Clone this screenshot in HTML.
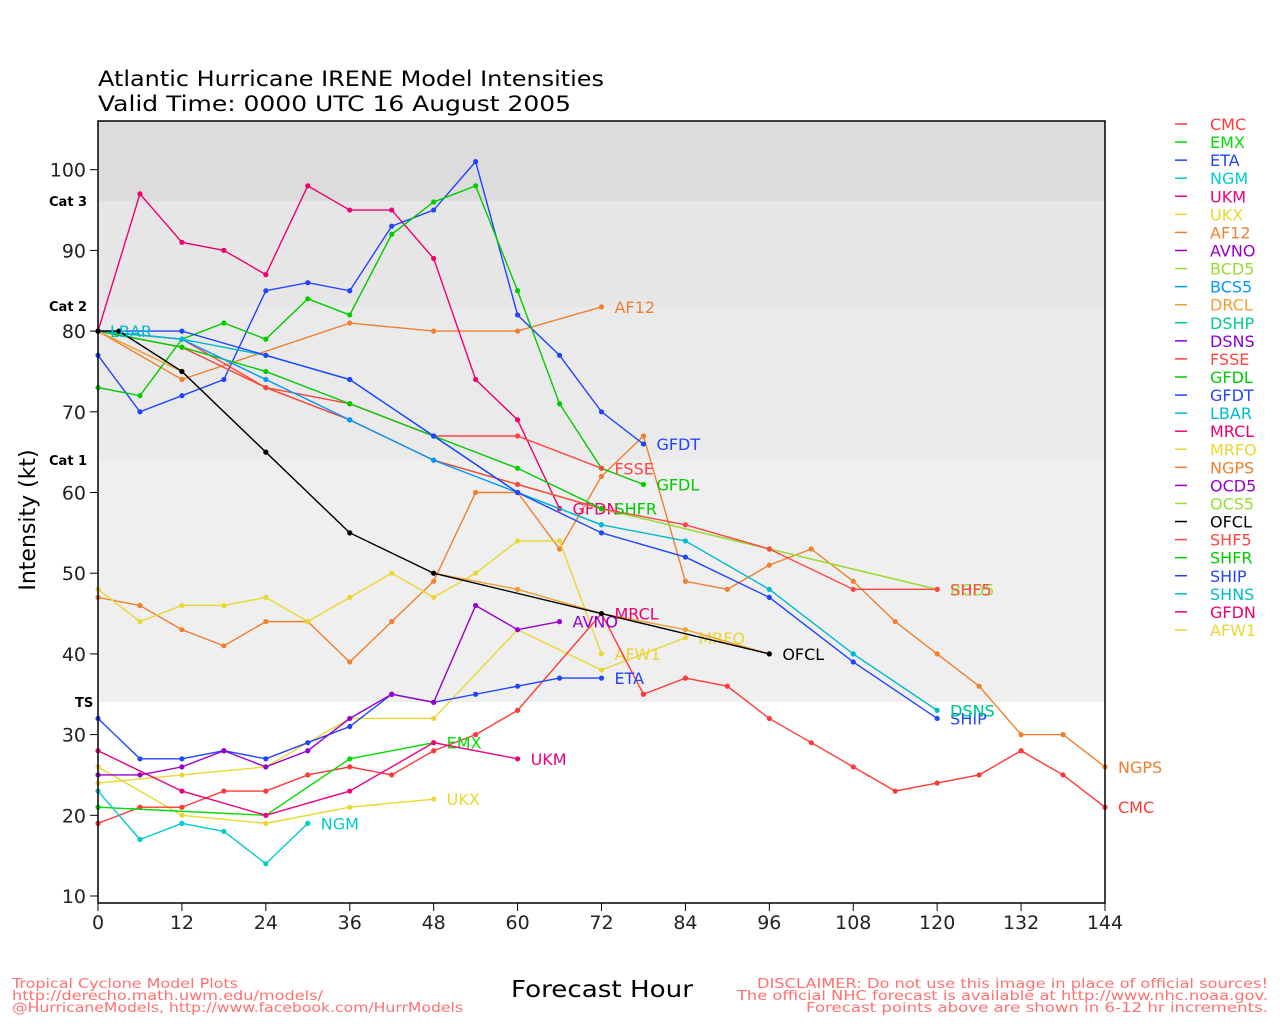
<!DOCTYPE html>
<html><head><meta charset="utf-8"><style>
body{margin:0;background:#fff}
svg text{font-family:"DejaVu Sans","Liberation Sans",sans-serif}
</style></head><body>
<svg id="s" width="1280" height="1024" xmlns="http://www.w3.org/2000/svg">
<rect x="98" y="121" width="1007" height="782" fill="#fff"/>
<rect x="98" y="121" width="1007" height="80" fill="#dcdcdc"/>
<rect x="98" y="201" width="1007" height="105" fill="#e6e6e6"/>
<rect x="98" y="306" width="1007" height="154" fill="#eaeaea"/>
<rect x="98" y="460" width="1007" height="242" fill="#efefef"/>
<g id="plot"></g>
<rect x="98" y="121" width="1007" height="782" fill="none" stroke="#000" stroke-width="1.5"/>
<text x="98" y="86" font-size="21" fill="#000" textLength="506" lengthAdjust="spacingAndGlyphs">Atlantic Hurricane IRENE Model Intensities</text>
<text x="98" y="111" font-size="21" fill="#000" textLength="473" lengthAdjust="spacingAndGlyphs">Valid Time: 0000 UTC 16 August 2005</text>
<text x="49" y="206" font-size="13" font-weight="bold">Cat 3</text>
<text x="49" y="311" font-size="13" font-weight="bold">Cat 2</text>
<text x="49" y="465" font-size="13" font-weight="bold">Cat 1</text>
<text x="75" y="707" font-size="13" font-weight="bold">TS</text>
<text transform="translate(35,520) rotate(-90)" font-size="22" text-anchor="middle">Intensity (kt)</text>
<text x="511" y="997" font-size="23" textLength="182" lengthAdjust="spacingAndGlyphs">Forecast Hour</text>
<g font-size="13" fill="#ff7070">
<text x="12" y="988" textLength="226" lengthAdjust="spacingAndGlyphs">Tropical Cyclone Model Plots</text>
<text x="12" y="1000" textLength="311" lengthAdjust="spacingAndGlyphs">http://derecho.math.uwm.edu/models/</text>
<text x="12" y="1012" textLength="451" lengthAdjust="spacingAndGlyphs">@HurricaneModels, http://www.facebook.com/HurrModels</text>
<text x="757" y="988" textLength="511" lengthAdjust="spacingAndGlyphs">DISCLAIMER: Do not use this image in place of official sources!</text>
<text x="737" y="1000" textLength="531" lengthAdjust="spacingAndGlyphs">The official NHC forecast is available at http://www.nhc.noaa.gov.</text>
<text x="806" y="1012" textLength="462" lengthAdjust="spacingAndGlyphs">Forecast points above are shown in 6-12 hr increments.</text>
</g>
<g id="ax"></g><g id="leg"></g>
</svg>
<script>
const X=h=>98+h*6.993, Y=v=>896-(v-10)*8.07;
const ns="http://www.w3.org/2000/svg";
function el(p,t,a,txt){const e=document.createElementNS(ns,t);for(const k in a)e.setAttribute(k,a[k]);if(txt!=null)e.textContent=txt;p.appendChild(e);return e;}
const ax=document.getElementById('ax');
for(let v=10;v<=100;v+=10){el(ax,'line',{x1:90,x2:98,y1:Y(v),y2:Y(v),stroke:'#000'});el(ax,'text',{x:86,y:Y(v)+7,'font-size':19,'text-anchor':'end',fill:'#222'},v);}
for(let h=0;h<=144;h+=12){el(ax,'line',{x1:X(h),x2:X(h),y1:903,y2:911,stroke:'#000'});el(ax,'text',{x:X(h),y:929,'font-size':19,'text-anchor':'middle',fill:'#222'},h);}
const C={CMC:'#ff3838',EMX:'#00dd00',ETA:'#2244ff',NGM:'#00cccc',UKM:'#ee0080',UKX:'#e8d830',AF12:'#f08030',AVNO:'#9900cc',BCD5:'#99dd33',BCS5:'#0099ff',DRCL:'#f0a030',DSHP:'#00cc88',DSNS:'#8800dd',FSSE:'#ff4444',GFDL:'#00cc00',GFDT:'#2244ff',LBAR:'#00bbcc',MRCL:'#ee0070',MRFO:'#e8d830',NGPS:'#f08030',OCD5:'#9900cc',OCS5:'#99dd33',OFCL:'#000000',SHF5:'#ff4444',SHFR:'#00cc00',SHIP:'#2244ff',SHNS:'#00bbcc',GFDN:'#ee0070',AFW1:'#e8d830'};
const S=[
['NGPS',[[0,47],[6,46],[12,43],[18,41],[24,44],[30,44],[36,39],[42,44],[48,49],[54,60],[60,60],[66,53],[72,62],[78,67],[84,49],[90,48],[96,51],[102,53],[108,49],[114,44],[120,40],[126,36],[132,30],[138,30],[144,26]],'NGPS'],
['AF12',[[0,80],[12,74],[36,81],[48,80],[60,80],[72,83]],'AF12'],
['AFW1',[[0,48],[6,44],[12,46],[18,46],[24,47],[30,44],[36,47],[42,50],[48,47],[54,50],[60,54],[66,54],[72,40]],'AFW1'],
['MRFO',[[0,24],[12,25],[24,26],[30,29],[36,32],[48,32],[60,43],[72,38],[84,42]],'MRFO'],
['UKX',[[0,26],[12,20],[24,19],[36,21],[48,22]],'UKX'],
['CMC',[[0,19],[6,21],[12,21],[18,23],[24,23],[30,25],[36,26],[42,25],[48,28],[54,30],[60,33],[72,45],[78,35],[84,37],[90,36],[96,32],[102,29],[108,26],[114,23],[120,24],[126,25],[132,28],[138,25],[144,21]],'CMC'],
['EMX',[[0,21],[24,20],[36,27],[48,29]],'EMX'],
['NGM',[[0,23],[6,17],[12,19],[18,18],[24,14],[30,19]],'NGM'],
['UKM',[[0,28],[12,23],[24,20],[36,23],[48,29],[60,27]],'UKM'],
['ETA',[[0,32],[6,27],[12,27],[18,28],[24,27],[30,29],[36,31],[42,35],[48,34],[54,35],[60,36],[66,37],[72,37]],'ETA'],
['AVNO',[[0,25],[6,25],[12,26],[18,28],[24,26],[30,28],[36,32],[42,35],[48,34],[54,46],[60,43],[66,44]],'AVNO'],
['GFDN',[[0,80],[6,97],[12,91],[18,90],[24,87],[30,98],[36,95],[42,95],[48,89],[54,74],[60,69],[66,58]],'GFDN'],
['GFDT',[[0,77],[6,70],[12,72],[18,74],[24,85],[30,86],[36,85],[42,93],[48,95],[54,101],[60,82],[66,77],[72,70],[78,66]],'GFDT'],
['GFDL',[[0,73],[6,72],[12,79],[18,81],[24,79],[30,84],[36,82],[42,92],[48,96],[54,98],[60,85],[66,71],[72,63],[78,61]],'GFDL'],
['FSSE',[[0,80],[12,79],[24,73],[36,71],[48,67],[60,67],[72,63]],'FSSE'],
['BCD5',[[0,80],[12,78],[24,73],[36,69],[48,64],[60,61],[72,58],[96,53],[120,48]],null],
['OCS5',[[0,80],[12,78],[24,73],[36,69],[48,64],[60,61],[72,58],[96,53],[120,48]],null],
['SHF5',[[0,80],[12,78],[24,73],[36,69],[48,64],[60,61],[72,58],[84,56],[96,53],[108,48],[120,48]],'SHF5'],
['SHFR',[[0,80],[12,78],[24,75],[36,71],[48,67],[60,63],[72,58]],'SHFR'],
['BCS5',[[0,80],[12,79],[24,74],[36,69],[48,64],[60,60],[72,56]],null],
['SHNS',[[0,80],[12,79],[24,77],[36,74],[48,67],[60,60],[72,56],[84,54],[96,48],[108,40],[120,33]],'DSNS'],
['SHIP',[[0,80],[12,80],[24,77],[36,74],[48,67],[60,60],[72,55],[84,52],[96,47],[108,39],[120,32]],'SHIP'],
['DRCL',[[0,80],[12,75],[24,65],[36,55],[48,50],[60,48],[72,45],[84,43],[96,40]],null],
['OFCL',[[0,80],[3,80],[12,75],[24,65],[36,55],[48,50],[72,45],[96,40]],'OFCL'],
];
const P=document.getElementById('plot');
for(const [n,pts,lab] of S){
  el(P,'polyline',{points:pts.map(p=>X(p[0])+','+Y(p[1])).join(' '),fill:'none',stroke:C[n],'stroke-width':1.4});
  for(const p of pts)el(P,'circle',{cx:X(p[0]),cy:Y(p[1]),r:2.6,fill:C[n]});
  if(lab){const l=pts[pts.length-1];el(P,'text',{x:X(l[0])+13,y:Y(l[1])+6,'font-size':16,fill:C[n]},lab);}
}
el(P,'text',{x:X(120)+13,y:Y(48)+6,'font-size':16,fill:C.BCD5},'BCD5');
el(P,'text',{x:X(120)+13,y:Y(48)+6,'font-size':16,fill:C.SHF5,opacity:.8},'SHF5');
el(P,'text',{x:X(120)+13,y:Y(33)+6,'font-size':16,fill:C.DSHP},'DSNS');
el(P,'text',{x:X(72)+13,y:Y(45)+6,'font-size':16,fill:C.MRCL},'MRCL');
el(P,'text',{x:110,y:Y(80)+6,'font-size':16,fill:C.LBAR},'LBAR');
const L=document.getElementById('leg');const names=Object.keys(C);
names.forEach((n,i)=>{const y=124+i*18.07;el(L,'line',{x1:1175,x2:1187,y1:y,y2:y,stroke:C[n],'stroke-width':1.5});el(L,'text',{x:1210,y:y+6,'font-size':16,fill:C[n]},n);});
</script>
</body></html>
